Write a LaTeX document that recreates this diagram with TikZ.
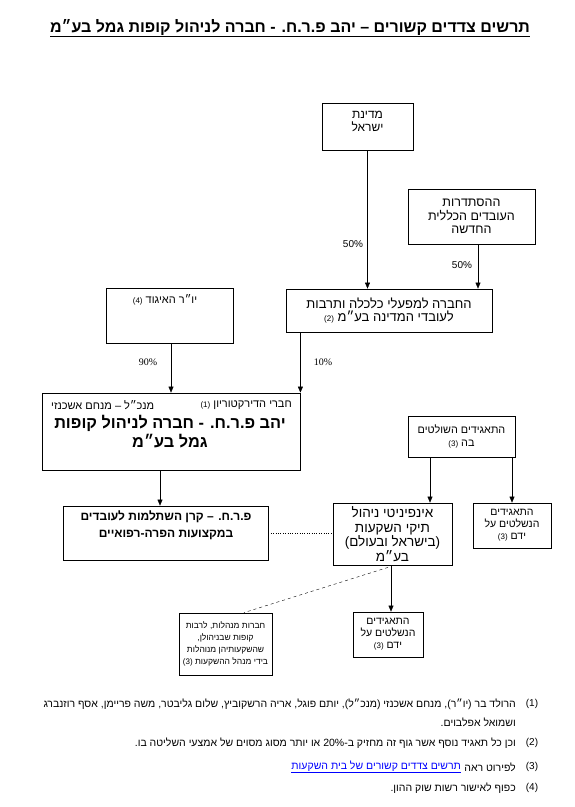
\documentclass[tikz,border=0pt]{standalone}
\usepackage{fontspec}
\setmainfont{Liberation Sans}[Script=Hebrew]
\newfontfamily\serfont{Liberation Serif}
\usetikzlibrary{arrows.meta}
\TeXXeTstate=1
\newcommand{\heb}[1]{\beginR#1\endR}
\newcommand{\fn}[1]{{\fontsize{8}{9}\selectfont(#1)}}

\begin{document}
\begin{tikzpicture}[x=1pt,y=-1pt,font=\fontsize{12}{13}\selectfont,
    >={Triangle[width=5pt,length=6pt]},
    box/.style={draw,line width=0.8pt,inner sep=2pt,align=center},
    txt/.style={inner sep=0pt,align=center},
    pct/.style={inner sep=0pt,font=\fontsize{10}{12}\selectfont},
    note/.style={inner sep=0pt,anchor=east,font=\fontsize{10.5}{12}\selectfont}]
\useasboundingbox (0,0) rectangle (575,807);
% title
\node[txt,font=\bfseries\fontsize{16}{18}\selectfont] (title) at (290,28)
  {\underline{\heb{תרשים צדדים קשורים – יהב פ.ר.ח. - חברה לניהול קופות גמל בע״מ}}};
% owners
\node[box,minimum width=91,minimum height=47] (medina) at (367.5,126.5) {};
\node[txt] (medinatxt) at (367.5,121) {\heb{מדינת}\\\heb{ישראל}};
\node[box,minimum width=127,minimum height=55,font=\fontsize{12.5}{13.5}\selectfont] (histadrut) at (471.5,216.5)
  {\heb{ההסתדרות}\\\heb{העובדים הכללית}\\\heb{החדשה}};
\node[box,minimum width=206,minimum height=43,font=\fontsize{13}{12.5}\selectfont] (chevra) at (389,310.5)
  {\heb{החברה למפעלי כלכלה ותרבות}\\\heb{לעובדי המדינה בע״מ \fn{2}}};
\node[box,minimum width=127,minimum height=55] (yor) at (169.5,315.5) {};
\node[txt,font=\fontsize{11}{13}\selectfont] (yortxt) at (165,300) {\heb{יו״ר האיגוד \fn{4}}};
% yahav
\node[box,minimum width=258,minimum height=77] (yahav) at (171,431.5) {};
\node[txt,anchor=east,font=\fontsize{11}{12}\selectfont] (board) at (292,405) {\heb{חברי הדירקטוריון \fn{1}}};
\node[txt,anchor=west,font=\fontsize{11}{12}\selectfont] (ceo) at (51,405) {\heb{מנכ״ל – מנחם אשכנזי}};
\node[txt,font=\bfseries\fontsize{16.3}{19}\selectfont] (yahavtxt) at (170,431.5)
  {\heb{יהב פ.ר.ח. - חברה לניהול קופות}\\\heb{גמל בע״מ}};
\node[box,minimum width=205,minimum height=54] (prh) at (165.5,533) {};
\node[txt,font=\bfseries\fontsize{12}{17}\selectfont] (prhtxt) at (166,525.5)
  {\heb{פ.ר.ח. – קרן השתלמות לעובדים}\\\heb{במקצועות הפרה-רפואיים}};
% infinity
\node[box,minimum width=107,minimum height=41,font=\fontsize{10.8}{12.5}\selectfont] (rulers) at (461.5,436.5)
  {\heb{התאגידים השולטים}\\\heb{בה \fn{3}}};
\node[box,minimum width=78,minimum height=45,font=\fontsize{10.5}{12}\selectfont] (ruled) at (512,525.5)
  {\heb{התאגידים}\\\heb{הנשלטים על}\\\heb{ידם \fn{3}}};
\node[box,minimum width=119,minimum height=62,font=\fontsize{13.5}{14.5}\selectfont] (infinity) at (392.5,534)
  {\heb{אינפיניטי ניהול}\\\heb{תיקי השקעות}\\\heb{(בישראל ובעולם)}\\\heb{בע״מ}};
\node[box,minimum width=70,minimum height=45,font=\fontsize{10.5}{12}\selectfont] (ruledb) at (388,634.5)
  {\heb{התאגידים}\\\heb{הנשלטים על}\\\heb{ידם \fn{3}}};
\node[box,minimum width=93,minimum height=62,font=\fontsize{8.5}{12}\selectfont] (managers) at (225.5,644)
  {\heb{חברות מנהלות, לרבות}\\\heb{קופות שבניהולן,}\\\heb{שהשקעותיהן מנוהלות}\\\heb{בידי מנהל ההשקעות \fn{3}}};
% connectors
\draw[->] (medina.south) -- (medina.south |- chevra.north);
\node[pct] (p1) at (353,244) {50\%};
\draw[->] ([xshift=6.5]histadrut.south) -- ([xshift=6.5]histadrut.south |- chevra.north);
\node[pct] (p2) at (462,265) {50\%};
\draw[->] (chevra.south -| yahav.north east) -- (yahav.north east);
\node[pct,font=\serfont\fontsize{10}{12}\selectfont] (p3) at (323,362) {10\%};
\draw[->] ([xshift=1.5]yor.south) -- ([xshift=1.5]yor.south |- yahav.north);
\node[pct,font=\serfont\fontsize{10}{12}\selectfont] (p4) at (148,362) {90\%};
\draw[->] ([xshift=-5.5]prh.north |- yahav.south) -- ([xshift=-5.5]prh.north);
\draw[dotted] (prh.east) -- (prh.east -| infinity.west);
\draw[->] ([xshift=-31.5]rulers.south) -- ([xshift=-31.5]rulers.south |- infinity.north);
\draw[->] (ruled.north |- rulers.south) -- (ruled.north);
\draw[->] ([xshift=-1.5]infinity.south) -- ([xshift=-1.5]infinity.south |- ruledb.north);
\draw[dashed] ([xshift=-4.5,yshift=-2]infinity.south) -- ([xshift=18.5]managers.north);
% notes
\node[pct] (n1) at (532,704) {(1)};
\node[pct] (n2) at (532,743) {(2)};
\node[pct] (n3) at (532,767) {(3)};
\node[pct] (n4) at (532,788) {(4)};
\node[note] (t1) at (516,704) {\heb{הרולד בר (יו״ר), מנחם אשכנזי (מנכ״ל), יותם פוגל, אריה הרשקוביץ, שלום גליבטר, משה פריימן, אסף רוזנברג}};
\node[note] (t1b) at (516,722) {\heb{ושמואל אפלבוים.}};
\node[note] (t2) at (516,743) {\heb{וכן כל תאגיד נוסף אשר גוף זה מחזיק ב-20\% או יותר מסוג מסוים של אמצעי השליטה בו.}};
\node[note] (t3) at (516,767) {\heb{לפירוט ראה}};
\node[note,text=blue] (t3link) at ([xshift=-3pt]t3.west) {\underline{\heb{תרשים צדדים קשורים של בית השקעות}}};
\node[note] (t4) at (516,788) {\heb{כפוף לאישור רשות שוק ההון.}};
\end{tikzpicture}
\end{document}
